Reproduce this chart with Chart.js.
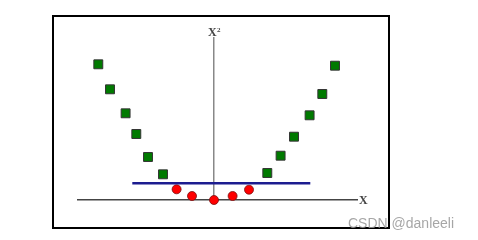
<!DOCTYPE html>
<html>
<head>
<meta charset="utf-8">
<style>
  html, body { margin: 0; padding: 0; background: #fff; }
  #wrap { position: relative; width: 478px; height: 240px; }
</style>
</head>
<body>
<div id="wrap"><canvas id="myChart" width="478" height="240"></canvas></div>
<script src="https://cdn.jsdelivr.net/npm/chart.js@4/dist/chart.umd.min.js"></script>
<script>
// x values (data units), y = height above x axis
var greenX = [-11.57, -10.4, -8.84, -7.77, -6.6, -5.1, 5.33, 6.66, 8.0, 9.56, 10.83, 12.1];
var greenY = [13.57, 11.07, 8.67, 6.6, 4.3, 2.57, 2.7, 4.43, 6.33, 8.47, 10.6, 13.43];
var redX = [-3.74, -2.2, 0, 1.86, 3.5];
var redY = [1.07, 0.4, 0, 0.4, 1.03];
var lineX = [-8.17, 9.63];
var lineY = [1.67, 1.67];
var xLabel = 'X';
var yLabel = ['X', '2'];
var watermark = 'CSDN @danleeli';

function pts(xs, ys) {
  return xs.map(function (x, i) { return { x: x, y: ys[i] }; });
}

var extras = {
  id: 'extras',
  beforeDraw: function (chart) {
    var c = chart.ctx;
    c.save();
    c.strokeStyle = '#000';
    c.lineWidth = 2;
    c.strokeRect(53, 16, 336, 212);
    c.restore();
  },
  afterDraw: function (chart) {
    var c = chart.ctx, a = chart.chartArea;
    var x0 = chart.scales.x.getPixelForValue(0);
    c.save();
    c.fillStyle = '#444';
    c.font = 'bold 12px "Liberation Serif"';
    c.textBaseline = 'alphabetic';
    c.textAlign = 'left';
    c.fillText(xLabel, a.right + 2, a.bottom + 4);
    // X with superscript 2
    c.fillText(yLabel[0], x0 - 6, a.top - 2);
    c.font = 'bold 7px "Liberation Serif"';
    c.fillText(yLabel[1], x0 + 3, a.top - 6);
    c.font = '14px "Liberation Sans"';
    c.fillStyle = 'rgba(150,150,150,0.85)';
    c.fillText(watermark, 348, 228);
    c.restore();
  }
};

var ctx = document.getElementById('myChart').getContext('2d');
var myChart = new Chart(ctx, {
  type: 'scatter',
  data: {
    datasets: [{
      type: 'line',
      data: pts(lineX, lineY),
      borderColor: '#1c1c8f',
      borderWidth: 2.5,
      pointRadius: 0,
      clip: false
    }, {
      data: pts(greenX, greenY),
      pointStyle: 'rect',
      pointRadius: 6.3,
      backgroundColor: '#007a00',
      borderColor: '#333',
      borderWidth: 1,
      clip: false
    }, {
      data: pts(redX, redY),
      pointStyle: 'circle',
      pointRadius: 4.5,
      backgroundColor: '#ff0000',
      borderColor: '#7a1010',
      borderWidth: 0.8,
      clip: false
    }]
  },
  options: {
    responsive: false,
    animation: false,
    layout: { padding: { left: 78, right: 121, top: 38, bottom: 40 } },
    plugins: { legend: { display: false }, tooltip: { enabled: false } },
    scales: {
      x: {
        type: 'linear', min: -13.6, max: 14.3,
        position: { y: 0 },
        z: 1,
        ticks: { display: false },
        grid: { display: false },
        border: { display: true, color: '#444', width: 1.5 }
      },
      y: {
        type: 'linear', min: 0, max: 16.2,
        position: { x: 0 },
        z: 1,
        ticks: { display: false },
        grid: { display: false },
        border: { display: true, color: '#888', width: 1.5 }
      }
    }
  },
  plugins: [extras]
});
</script>
</body>
</html>
